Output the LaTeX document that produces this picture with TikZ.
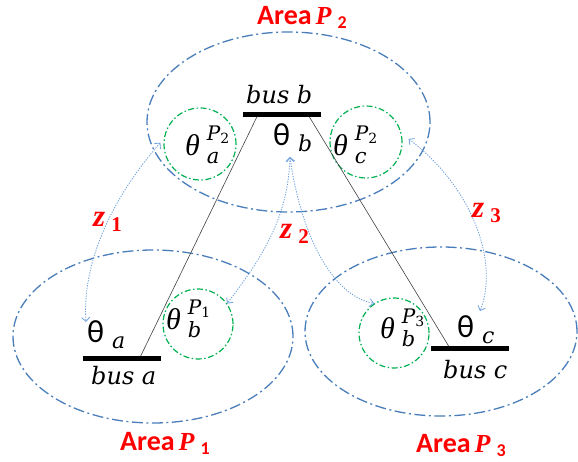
\documentclass[tikz,border=0pt]{standalone}
\usepackage{fontspec}
\usetikzlibrary{shapes.geometric,arrows.meta,calc}
\newfontfamily\carl{Carlito}
\newfontfamily\lserif{Liberation Serif}
\newfontfamily\dvs{DejaVu Serif}
\definecolor{areablue}{RGB}{74,126,187}
\definecolor{circgreen}{RGB}{0,176,80}
\definecolor{zblue}{RGB}{110,160,220}
\definecolor{labred}{RGB}{255,0,0}
\definecolor{wire}{RGB}{64,64,64}
% upright theta with italic subscript
\newcommand\thup[1]{{\carl\fontsize{32}{32}\selectfont θ}\hspace{8pt}\raisebox{-6pt}{\dvs\itshape\fontsize{22}{22}\selectfont #1}}
% italic theta with P_n superscript and subscript
\newcommand\thit[2]{{\lserif\itshape\fontsize{30}{30}\selectfont θ}\hspace{7pt}\rlap{\raisebox{15pt}{\dvs\itshape\fontsize{20}{20}\selectfont P\raisebox{-3pt}{\upshape\fontsize{14}{14}\selectfont #1}}}\raisebox{-8pt}{\dvs\itshape\fontsize{21}{21}\selectfont #2}}
\newcommand\zlab[1]{{\lserif\bfseries\itshape\fontsize{31}{31}\selectfont z}\hspace{6pt}\raisebox{-5pt}{\lserif\bfseries\fontsize{21}{21}\selectfont #1}}
\newcommand\arealab[1]{{\carl\bfseries\fontsize{28}{28}\selectfont Area}\hspace{4pt}{\lserif\bfseries\itshape\fontsize{26}{26}\selectfont P}\hspace{6pt}\raisebox{-4pt}{\carl\bfseries\fontsize{18}{18}\selectfont #1}}
\newcommand\buslab[1]{{\dvs\itshape\fontsize{24}{24}\selectfont bus #1}}
\begin{document}
\begin{tikzpicture}[x=1pt,y=-1pt,
  area/.style={ellipse,draw=areablue,line width=1.3pt,inner sep=0pt,
    dash pattern=on 11pt off 3.5pt on 2pt off 3.5pt},
  circ/.style={circle,draw=circgreen,line width=1.2pt,inner sep=0pt,
    dash pattern=on 6pt off 2.5pt on 1.5pt off 2.5pt},
  busbar/.style={rectangle,fill=black,inner sep=0pt,minimum width=78pt,minimum height=5pt},
  wireline/.style={draw=wire,line width=0.6pt},
  zarrow/.style={draw=zblue,line width=0.8pt,dash pattern=on 1.3pt off 1.3pt,
    {Straight Barb[length=4pt,width=8pt]}-{Straight Barb[length=4pt,width=8pt]}},
  lab/.style={anchor=base west,inner sep=0pt},
  redlab/.style={anchor=base west,inner sep=0pt,text=labred}]
\useasboundingbox (0,0) rectangle (578,462);
% areas
\node[area,minimum width=283pt,minimum height=180pt] (P2e) at (288.5,122) {};
\node[area,minimum width=280pt,minimum height=173pt] (P1e) at (153,336.5) {};
\node[area,minimum width=272pt,minimum height=169pt] (P3e) at (441,331.5) {};
% green circles
\node[circ,minimum size=72pt] (ca2) at (200,144) {};
\node[circ,minimum size=72pt] (cc2) at (366,142) {};
\node[circ,minimum size=70pt] (cb1) at (198,324) {};
\node[circ,minimum size=70pt] (cb3) at (394,333) {};
% buses
\node[busbar] (busb) at (282,115) {};
\node[busbar] (busa) at (121.5,358) {};
\node[busbar] (busc) at (470,348) {};
\draw[wireline] ($(busb.west)+(15,0)$) -- ($(busa.east)+(-21,0)$);
\draw[wireline] ($(busb.east)+(-13,0)$) -- ($(busc.west)+(19,0)$);
\node[busbar] at (busb) {};
\node[busbar] at (busa) {};
\node[busbar] at (busc) {};
% bus labels
\node[lab] (lbb) at (246,104) {\buslab{b}};
\node[lab] (lba) at (91,384) {\buslab{a}};
\node[lab] (lbc) at (443,378) {\buslab{c}};
% theta labels
\node[lab] (tha) at (87,342) {\thup{a}};
\node[lab] (thb) at (273,146) {\thup{b}};
\node[lab] (thc) at (457,337) {\thup{c}};
\node[lab] (tha2) at (185,156) {\thit{2}{a}};
\node[lab] (thc2) at (333,156) {\thit{2}{c}};
\node[lab] (thb1) at (166,329) {\thit{1}{b}};
\node[lab] (thb3) at (380,338) {\thit{3}{b}};
% arrows
\coordinate (z1e) at (86,322);
\coordinate (z2t) at (290,157);
\coordinate (z3e) at (480,311);
\draw[zarrow] ([xshift=-3pt]ca2.178) .. controls (110,200) and (82,265) .. (z1e);
\draw[zarrow] (z2t) .. controls (288,220) and (260,260) .. (cb1.35);
\draw[zarrow] (z2t) .. controls (300,230) and (330,295) .. (cb3.124);
\draw[zarrow] ([shift={(6,-3)}]cc2.east) .. controls (470,185) and (500,260) .. (z3e);
% red labels
\node[redlab] (aP2) at (257,25) {\arealab{2}};
\node[redlab] (aP1) at (120,450) {\arealab{1}};
\node[redlab] (aP3) at (416,452) {\arealab{3}};
\node[redlab] (z1) at (93,227) {\zlab{1}};
\node[redlab] (z2) at (280,239) {\zlab{2}};
\node[redlab] (z3) at (472,218) {\zlab{3}};
\end{tikzpicture}
\end{document}
